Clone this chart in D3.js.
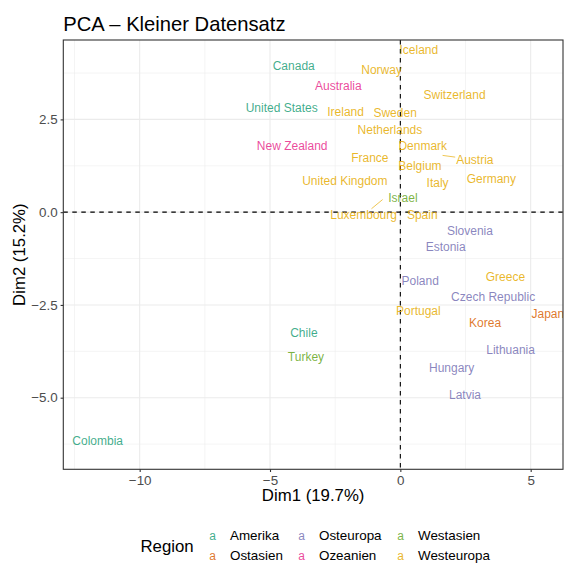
<!DOCTYPE html>
<html>
<head>
<meta charset="utf-8">
<script src="https://cdn.jsdelivr.net/npm/d3@7/dist/d3.min.js"></script>
<style>
  html, body { margin: 0; padding: 0; background: #fff; }
  svg { display: block; font-family: "Liberation Sans", Arial, Helvetica, sans-serif; }
</style>
</head>
<body>
<svg id="chart" width="564" height="563"></svg>
<script>
// PCA scores of the individuals (Dim1, Dim2) with their region
const countries = ["Iceland","Canada","Norway","Australia","Switzerland","United States","Ireland","Sweden",
  "Netherlands","New Zealand","Denmark","France","Austria","Belgium","United Kingdom","Italy","Germany",
  "Israel","Luxembourg","Spain","Slovenia","Estonia","Poland","Greece","Czech Republic","Portugal","Japan",
  "Korea","Lithuania","Hungary","Latvia","Chile","Turkey","Colombia"];
const dim1 = [0.71,-4.09,-0.72,-2.38,2.08,-4.55,-2.10,-0.20,
  -0.40,-4.15,0.86,-1.17,1.62,0.75,-2.13,1.43,3.49,
  0.10,-0.68,0.84,2.67,1.74,0.76,4.03,3.56,0.69,5.66,
  3.25,4.23,1.97,2.48,-3.70,-3.62,-11.61];
const dim2 = [4.37,3.94,3.85,3.40,3.16,2.80,2.70,2.68,
  2.22,1.79,1.79,1.46,1.53,1.25,0.84,0.78,0.89,
  0.39,0.34,-0.08,-0.49,-0.94,-1.84,-1.73,-2.28,-2.67,-2.75,
  -2.98,-3.70,-4.20,-4.91,-3.26,-3.91,-6.15];
const region = ["Westeuropa","Amerika","Westeuropa","Ozeanien","Westeuropa","Amerika","Westeuropa","Westeuropa",
  "Westeuropa","Ozeanien","Westeuropa","Westeuropa","Westeuropa","Westeuropa","Westeuropa","Westeuropa","Westeuropa",
  "Westasien","Westeuropa","Westeuropa","Osteuropa","Osteuropa","Osteuropa","Westeuropa","Osteuropa","Westeuropa","Ostasien",
  "Ostasien","Osteuropa","Osteuropa","Osteuropa","Amerika","Westasien","Amerika"];

const regions = ["Amerika","Ostasien","Osteuropa","Ozeanien","Westasien","Westeuropa"];
const regionColors = ["#1B9E77","#D95F02","#7570B3","#E7298A","#66A61E","#E6AB02"];

const xTicks = [-10,-5,0,5];
const yTicks = [-5,-2.5,0,2.5];
const xMinor = [-12.5,-7.5,-2.5,2.5];
const yMinor = [-6.25,-3.75,-1.25,1.25,3.75];

const titleText = "PCA \u2013 Kleiner Datensatz";
const xTitle = "Dim1 (19.7%)";
const yTitle = "Dim2 (15.2%)";
const legendTitle = "Region";

// ---- layout ----
const svg = d3.select("#chart");
const panel = { left: 63.3, right: 563, top: 40, bottom: 469.3 };
const x = d3.scaleLinear().domain([-12.93, 6.24]).range([panel.left, panel.right]);
const y = d3.scaleLinear().domain([-6.93, 4.64]).range([panel.bottom, panel.top]);
const color = d3.scaleOrdinal().domain(regions).range(regionColors);
const fmtY = d3.format(".1f");
const minus = s => String(s).replace("-", "\u2212");

svg.append("defs").append("clipPath").attr("id", "panel-clip")
  .append("rect")
  .attr("x", panel.left).attr("y", panel.top)
  .attr("width", panel.right - panel.left).attr("height", panel.bottom - panel.top);

// title
svg.append("text")
  .attr("x", panel.left).attr("y", 31)
  .attr("font-size", 20.2).attr("fill", "#000")
  .text(titleText);

// grid
const grid = svg.append("g");
grid.selectAll("line.xmin").data(xMinor).join("line")
  .attr("x1", d => x(d)).attr("x2", d => x(d))
  .attr("y1", panel.top).attr("y2", panel.bottom)
  .attr("stroke", "#ebebeb").attr("stroke-width", 0.55);
grid.selectAll("line.ymin").data(yMinor).join("line")
  .attr("y1", d => y(d)).attr("y2", d => y(d))
  .attr("x1", panel.left).attr("x2", panel.right)
  .attr("stroke", "#ebebeb").attr("stroke-width", 0.55);
grid.selectAll("line.xmaj").data(xTicks).join("line")
  .attr("x1", d => x(d)).attr("x2", d => x(d))
  .attr("y1", panel.top).attr("y2", panel.bottom)
  .attr("stroke", "#ebebeb").attr("stroke-width", 1.1);
grid.selectAll("line.ymaj").data(yTicks).join("line")
  .attr("y1", d => y(d)).attr("y2", d => y(d))
  .attr("x1", panel.left).attr("x2", panel.right)
  .attr("stroke", "#ebebeb").attr("stroke-width", 1.1);

// reference lines at the origin
svg.append("line")
  .attr("x1", x(0)).attr("x2", x(0)).attr("y1", panel.top).attr("y2", panel.bottom)
  .attr("stroke", "#000").attr("stroke-width", 1.1).attr("stroke-dasharray", "4.5,4.5");
svg.append("line")
  .attr("y1", y(0)).attr("y2", y(0)).attr("x1", panel.left).attr("x2", panel.right)
  .attr("stroke", "#000").attr("stroke-width", 1.1).attr("stroke-dasharray", "4.5,4.5");

// repelled labels: pixel offset of the label from its point
const labelShift = { "Austria": [32.3, 4.4], "Luxembourg": [-19, 15.7] };

const rows = countries.map((c, i) => ({ name: c, x: dim1[i], y: dim2[i], region: region[i] }));
const labels = svg.append("g").attr("clip-path", "url(#panel-clip)");

// connector segments for displaced labels
rows.filter(d => labelShift[d.name]).forEach(d => {
  const [dx, dy] = labelShift[d.name];
  const px = x(d.x), py = y(d.y);
  const lx = px + dx, ly = py + dy;
  // stop the segment at the label box
  const tmp = labels.append("text").attr("font-size", 12).text(d.name);
  const w = tmp.node().getComputedTextLength() / 2 + 1;
  tmp.remove();
  const h = 6.5;
  const t = Math.min(Math.abs(dx) > 0 ? (Math.abs(dx) - w) / Math.abs(dx) : 1,
                     Math.abs(dy) > 0 ? (Math.abs(dy) - h) / Math.abs(dy) : 1);
  const tt = Math.max(Math.abs(dx) > w ? (Math.abs(dx) - w) / Math.abs(dx) : 0,
                      Math.abs(dy) > h ? (Math.abs(dy) - h) / Math.abs(dy) : 0);
  labels.append("line")
    .attr("x1", px).attr("y1", py)
    .attr("x2", px + dx * tt).attr("y2", py + dy * tt)
    .attr("stroke", color(d.region)).attr("stroke-opacity", 0.85).attr("stroke-width", 0.8);
});

labels.selectAll("text.lab").data(rows).join("text")
  .attr("class", "lab")
  .attr("x", d => x(d.x) + (labelShift[d.name] ? labelShift[d.name][0] : 0))
  .attr("y", d => y(d.y) + (labelShift[d.name] ? labelShift[d.name][1] : 0))
  .attr("dy", "0.35em")
  .attr("text-anchor", "middle")
  .attr("font-size", 12)
  .attr("fill", d => color(d.region))
  .attr("fill-opacity", 0.85)
  .text(d => d.name);

// panel border
svg.append("rect")
  .attr("x", panel.left).attr("y", panel.top)
  .attr("width", panel.right - panel.left).attr("height", panel.bottom - panel.top)
  .attr("fill", "none").attr("stroke", "#333").attr("stroke-width", 1.1);

// axes
const xAxis = svg.append("g").attr("transform", `translate(0,${panel.bottom})`)
  .call(d3.axisBottom(x).tickValues(xTicks).tickSize(2.7).tickPadding(3).tickFormat(d => minus(d)));
const yAxis = svg.append("g").attr("transform", `translate(${panel.left},0)`)
  .call(d3.axisLeft(y).tickValues(yTicks).tickSize(2.7).tickPadding(3).tickFormat(d => minus(fmtY(d))));
[xAxis, yAxis].forEach(a => {
  a.select(".domain").remove();
  a.selectAll(".tick line").attr("stroke", "#333").attr("stroke-width", 1.1);
  a.selectAll(".tick text").attr("fill", "#4d4d4d").attr("font-size", 13.4)
    .attr("font-family", "'Liberation Sans', Arial, sans-serif");
});

// axis titles
svg.append("text")
  .attr("x", (panel.left + panel.right) / 2).attr("y", 501)
  .attr("text-anchor", "middle").attr("font-size", 16.8).attr("fill", "#000")
  .text(xTitle);
svg.append("text")
  .attr("transform", `translate(25,${(panel.top + panel.bottom) / 2}) rotate(-90)`)
  .attr("text-anchor", "middle").attr("font-size", 16.8).attr("fill", "#000")
  .text(yTitle);

// legend: three columns, two rows
const legend = svg.append("g");
legend.append("text")
  .attr("x", 140.5).attr("y", 551.5)
  .attr("font-size", 16.8).attr("fill", "#000")
  .text(legendTitle);
const colKeyX = [212.5, 301.5, 400.5];
const rowY = [535.5, 555.5];
regions.forEach((r, i) => {
  const col = Math.floor(i / 2), row = i % 2;
  const g = legend.append("g");
  g.append("text")
    .attr("x", colKeyX[col]).attr("y", rowY[row]).attr("dy", "0.35em")
    .attr("text-anchor", "middle").attr("font-size", 12)
    .attr("fill", color(r)).attr("fill-opacity", 0.85)
    .text("a");
  g.append("text")
    .attr("x", colKeyX[col] + 17.5).attr("y", rowY[row]).attr("dy", "0.35em")
    .attr("font-size", 13.4).attr("fill", "#000")
    .text(r);
});
</script>
</body>
</html>
